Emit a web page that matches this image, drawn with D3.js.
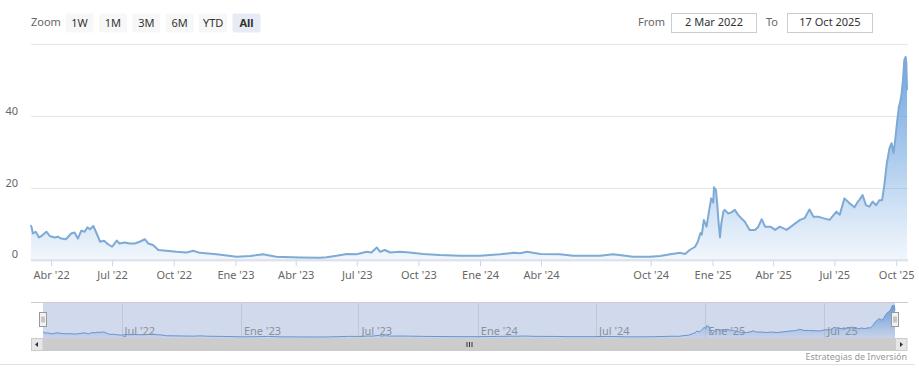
<!DOCTYPE html>
<html>
<head>
<meta charset="utf-8">
<script src="https://d3js.org/d3.v7.min.js"></script>
<style>
  body { margin: 0; background: #fff; }
  svg { display: block; font-family: "Noto Sans", "Open Sans", sans-serif; }
</style>
</head>
<body>
<div id="chart"></div>
<script>
// --- data ---
var dates = [
  "2022-03-02","2022-03-05","2022-03-09","2022-03-14","2022-03-19","2022-03-25","2022-03-30",
  "2022-04-06","2022-04-11","2022-04-16","2022-04-23","2022-05-01","2022-05-06","2022-05-11",
  "2022-05-16","2022-05-21","2022-05-25","2022-05-29","2022-06-03","2022-06-08","2022-06-13",
  "2022-06-19","2022-06-25","2022-07-01","2022-07-08","2022-07-12","2022-07-20","2022-07-27",
  "2022-08-04","2022-08-11","2022-08-19","2022-08-24","2022-08-31","2022-09-08","2022-09-20",
  "2022-10-05","2022-10-20","2022-10-30","2022-11-09","2022-12-04","2023-01-03","2023-01-23",
  "2023-02-11","2023-03-03","2023-04-07","2023-05-07","2023-05-17","2023-06-01","2023-06-16",
  "2023-07-01","2023-07-16","2023-07-23","2023-07-31","2023-08-05","2023-08-12","2023-08-20",
  "2023-09-03","2023-09-18","2023-10-08","2023-11-02","2023-12-02","2024-01-01","2024-01-31",
  "2024-02-20","2024-03-01","2024-03-11","2024-03-31","2024-04-29","2024-05-19","2024-06-28",
  "2024-07-22","2024-08-29","2024-09-29","2024-10-15","2024-10-30","2024-11-14","2024-11-21",
  "2024-11-28","2024-12-06","2024-12-10","2024-12-14","2024-12-16","2024-12-19","2024-12-23",
  "2024-12-27","2024-12-30","2025-01-02","2025-01-03","2025-01-06","2025-01-08","2025-01-10",
  "2025-01-12","2025-01-14","2025-01-17","2025-01-19","2025-01-24","2025-01-29","2025-02-03",
  "2025-02-08","2025-02-13","2025-02-18","2025-02-25","2025-03-05","2025-03-10","2025-03-15",
  "2025-03-20","2025-03-28","2025-04-04","2025-04-11","2025-04-21","2025-05-01","2025-05-11",
  "2025-05-18","2025-05-25","2025-05-31","2025-06-07","2025-06-14","2025-06-24","2025-07-04",
  "2025-07-09","2025-07-16","2025-07-24","2025-07-31","2025-08-05","2025-08-07","2025-08-12",
  "2025-08-17","2025-08-22","2025-08-27","2025-09-01","2025-09-06","2025-09-10","2025-09-13",
  "2025-09-17","2025-09-21","2025-09-24","2025-09-27","2025-09-30","2025-10-02","2025-10-05",
  "2025-10-07","2025-10-09","2025-10-11","2025-10-13","2025-10-15","2025-10-16","2025-10-17"
];
var values = [
  9.6,7.2,7.7,6.1,6.7,7.7,6.5,
  6.1,6.3,5.8,5.6,7.2,7.5,5.8,
  8.0,7.7,8.9,8.4,9.3,7.2,4.9,
  5.2,4.2,3.5,5.2,4.4,4.7,4.4,
  4.4,4.9,5.6,4.4,4.0,2.6,2.4,
  2.1,1.9,2.4,1.8,1.4,0.7,0.9,
  1.4,0.7,0.5,0.4,0.6,1.0,1.5,
  1.4,2.1,1.9,3.3,2.1,2.6,1.9,
  2.1,1.9,1.5,1.2,1.0,1.0,1.4,
  1.8,1.7,2.1,1.5,1.4,1.0,1.0,
  1.4,0.7,0.7,0.9,1.4,1.8,1.5,
  2.6,3.5,4.9,7.3,6.9,11.0,9.1,
  13.8,17.0,15.8,20.1,19.3,15.1,10.0,
  6.1,10.0,13.3,13.8,12.8,13.1,13.8,
  12.4,11.4,10.5,8.2,8.2,9.1,11.2,
  9.1,9.1,8.2,9.1,8.2,9.6,11.0,
  11.5,13.9,11.9,11.9,11.5,11.0,13.3,
  12.4,17.0,15.6,14.5,16.1,16.5,17.9,
  15.1,14.7,16.1,15.1,16.5,16.5,20.3,
  26.8,31.0,32.4,29.6,34.2,37.9,42.6,
  44.0,46.3,50.0,55.6,56.5,54.7,47.2
];
var yTicks = [0, 20, 40, 60];
var xTickDates = ["2022-04-01","2022-07-01","2022-10-01","2023-01-01","2023-04-01","2023-07-01",
  "2023-10-01","2024-01-01","2024-04-01","2024-10-01","2025-01-01","2025-04-01","2025-07-01","2025-10-01"];
var navTickDates = ["2022-07-01","2023-01-01","2023-07-01","2024-01-01","2024-07-01","2025-01-01","2025-07-01"];
// ordinal-style axis: the data has a gap in Q3 2024, so the time scale is piecewise
var axisBreaks = ["2022-03-02","2024-07-01","2024-10-01","2025-10-17"];
var zoomButtons = ["1W","1M","3M","6M","YTD","All"];
var fromText = "2 Mar 2022", toText = "17 Oct 2025";
var creditText = "Estrategias de Inversión";

var W = 919, H = 379;
var parse = d3.timeParse("%Y-%m-%d");
var es = d3.timeFormatLocale({
  dateTime: "%x, %X", date: "%d/%m/%Y", time: "%H:%M:%S", periods: ["AM","PM"],
  days: ["domingo","lunes","martes","miércoles","jueves","viernes","sábado"],
  shortDays: ["dom","lun","mar","mié","jue","vie","sáb"],
  months: ["enero","febrero","marzo","abril","mayo","junio","julio","agosto","septiembre","octubre","noviembre","diciembre"],
  shortMonths: ["Ene","Feb","Mar","Abr","May","Jun","Jul","Ago","Sep","Oct","Nov","Dic"]
});
var fmt = es.format("%b '%y");

var data = dates.map(function(d, i) { return { date: parse(d), value: values[i] }; });

var plot = { left: 31, right: 907, top: 44.3, bottom: 259.3 };
var nav = { left: 43, right: 895, top: 302, bottom: 338 };

var x = d3.scaleTime()
    .domain(axisBreaks.map(parse))
    .range([plot.left, 602, 650.7, plot.right]);
var xNav = d3.scaleTime()
    .domain(axisBreaks.map(parse))
    .range([nav.left, 596, 645, nav.right]);
var y = d3.scaleLinear().domain([0, 60]).range([plot.bottom, plot.top]);
var yNav = d3.scaleLinear().domain([d3.min(values), d3.max(values)]).range([nav.bottom - 1, nav.top + 3]);

var svg = d3.select("#chart").append("svg")
    .attr("width", W).attr("height", H)
    .attr("viewBox", "0 0 " + W + " " + H);

var defs = svg.append("defs");
var grad = defs.append("linearGradient").attr("id", "areaGrad")
    .attr("x1", 0).attr("y1", 0).attr("x2", 0).attr("y2", 1);
[[0, 1], [0.45, 0.62], [0.75, 0.32], [1, 0.1]].forEach(function(s) {
  grad.append("stop").attr("offset", s[0]).attr("stop-color", "#6fa6e0").attr("stop-opacity", s[1]);
});

// --- range selector ---
svg.append("text").attr("x", 31).attr("y", 25.5)
    .attr("font-size", 11).attr("fill", "#666").text("Zoom");
var btn = svg.selectAll("g.btn").data(zoomButtons).enter().append("g")
    .attr("class", "btn")
    .attr("transform", function(d, i) { return "translate(" + (65.5 + i * 33.4) + ",13.5)"; });
btn.append("rect").attr("width", 28).attr("height", 19).attr("rx", 2)
    .attr("fill", function(d) { return d === "All" ? "#e6ebf5" : "#f7f7f7"; });
btn.append("text").attr("x", 14).attr("y", 13.5).attr("text-anchor", "middle")
    .attr("font-size", 11).attr("fill", "#333")
    .attr("font-weight", function(d) { return d === "All" ? "bold" : "normal"; })
    .text(function(d) { return d; });

svg.append("text").attr("x", 638).attr("y", 25.5).attr("font-size", 11).attr("fill", "#666").text("From");
svg.append("rect").attr("x", 671.5).attr("y", 13.5).attr("width", 85).attr("height", 19)
    .attr("fill", "#fff").attr("stroke", "#ccc");
svg.append("text").attr("x", 714).attr("y", 26).attr("text-anchor", "middle")
    .attr("font-size", 11).attr("fill", "#333").text(fromText);
svg.append("text").attr("x", 766).attr("y", 25.5).attr("font-size", 11).attr("fill", "#666").text("To");
svg.append("rect").attr("x", 787.5).attr("y", 13.5).attr("width", 85).attr("height", 19)
    .attr("fill", "#fff").attr("stroke", "#ccc");
svg.append("text").attr("x", 830).attr("y", 26).attr("text-anchor", "middle")
    .attr("font-size", 11).attr("fill", "#333").text(toText);

// --- main plot ---
svg.append("g").selectAll("line").data(yTicks).enter().append("line")
    .attr("x1", plot.left).attr("x2", plot.right + 1)
    .attr("y1", function(d) { return Math.round(y(d)) + 0.5; })
    .attr("y2", function(d) { return Math.round(y(d)) + 0.5; })
    .attr("stroke", "#e6e6e6");

svg.append("g").selectAll("text").data(yTicks.slice(0, 3)).enter().append("text")
    .attr("x", 18).attr("y", function(d) { return y(d) - 1; })
    .attr("text-anchor", "end").attr("font-size", 11).attr("fill", "#666")
    .text(function(d) { return d; });

var area = d3.area().x(function(d) { return x(d.date); })
    .y0(plot.bottom).y1(function(d) { return y(d.value); });
var line = d3.line().x(function(d) { return x(d.date); }).y(function(d) { return y(d.value); });

svg.append("path").datum(data).attr("d", area).attr("fill", "url(#areaGrad)");
svg.append("path").datum(data).attr("d", line)
    .attr("fill", "none").attr("stroke", "#7eaad6").attr("stroke-width", 2)
    .attr("stroke-linejoin", "round");

var xAxis = d3.axisBottom(x)
    .tickValues(xTickDates.map(parse))
    .tickFormat(fmt)
    .tickSize(6).tickPadding(5);
var gx = svg.append("g").attr("transform", "translate(0," + (plot.bottom + 1) + ")").call(xAxis);
gx.select(".domain").attr("stroke", "#ccd6eb").attr("d", "M" + plot.left + ",0.5H" + (plot.right + 1));
gx.selectAll(".tick line").attr("stroke", "#ccd6eb");
gx.selectAll(".tick text").attr("font-size", 11).attr("fill", "#666")
    .attr("font-family", "Noto Sans, Open Sans, sans-serif");

// --- navigator ---
svg.append("line").attr("x1", plot.left).attr("x2", plot.right + 1)
    .attr("y1", nav.top + 0.5).attr("y2", nav.top + 0.5).attr("stroke", "#ccc");

svg.append("g").selectAll("line").data(navTickDates).enter().append("line")
    .attr("x1", function(d) { return Math.round(xNav(parse(d))) + 0.5; })
    .attr("x2", function(d) { return Math.round(xNav(parse(d))) + 0.5; })
    .attr("y1", nav.top).attr("y2", nav.bottom)
    .attr("stroke", "#e6e6e6");

var navArea = d3.area().x(function(d) { return xNav(d.date); })
    .y0(nav.bottom).y1(function(d) { return yNav(d.value); });
var navLine = d3.line().x(function(d) { return xNav(d.date); }).y(function(d) { return yNav(d.value); });
svg.append("path").datum(data).attr("d", navArea).attr("fill", "url(#areaGrad)");
svg.append("path").datum(data).attr("d", navLine)
    .attr("fill", "none").attr("stroke", "#6b9bd6").attr("stroke-width", 1);

// mask over the selected range (everything)
svg.append("rect").attr("x", nav.left).attr("y", nav.top + 1)
    .attr("width", nav.right - nav.left).attr("height", nav.bottom - nav.top - 1)
    .attr("fill", "rgba(102,133,194,0.3)");

svg.append("g").selectAll("text").data(navTickDates).enter().append("text")
    .attr("x", function(d) { return xNav(parse(d)) + 3; })
    .attr("y", 334.5).attr("font-size", 11).attr("fill", "#8a8f9c")
    .text(function(d) { return fmt(parse(d)); });

// handles
[nav.left, nav.right].forEach(function(hx) {
  var g = svg.append("g").attr("transform", "translate(" + (Math.round(hx) - 3.5) + ",312.5)");
  g.append("rect").attr("width", 7).attr("height", 14).attr("fill", "#f2f2f2").attr("stroke", "#999");
  g.append("line").attr("x1", 2.5).attr("x2", 2.5).attr("y1", 4).attr("y2", 10).attr("stroke", "#999");
  g.append("line").attr("x1", 4.5).attr("x2", 4.5).attr("y1", 4).attr("y2", 10).attr("stroke", "#999");
});

// scrollbar
var sbY = nav.bottom, sbH = 13;
svg.append("rect").attr("x", plot.left).attr("y", sbY).attr("width", plot.right - plot.left)
    .attr("height", sbH).attr("fill", "#f2f2f2");
svg.append("rect").attr("x", nav.left).attr("y", sbY).attr("width", nav.right - nav.left)
    .attr("height", sbH).attr("fill", "#cccccc");
svg.append("rect").attr("x", plot.left + 0.5).attr("y", sbY + 0.5).attr("width", 11.5)
    .attr("height", sbH - 1).attr("fill", "#e6e6e6").attr("stroke", "#ccc");
svg.append("rect").attr("x", nav.right + 0.5).attr("y", sbY + 0.5).attr("width", 11.5)
    .attr("height", sbH - 1).attr("fill", "#e6e6e6").attr("stroke", "#ccc");
svg.append("path").attr("d", "M35,344.5L38,342L38,347Z").attr("fill", "#333");
svg.append("path").attr("d", "M903,344.5L900,342L900,347Z").attr("fill", "#333");
var midX = (nav.left + nav.right) / 2;
[-2.5, 0, 2.5].forEach(function(o) {
  svg.append("line").attr("x1", midX + o + 0.5).attr("x2", midX + o + 0.5)
      .attr("y1", sbY + 4).attr("y2", sbY + 9).attr("stroke", "#333");
});

// credits and bottom rule
svg.append("text").attr("x", plot.right).attr("y", 359.5).attr("text-anchor", "end")
    .attr("font-size", 9).attr("fill", "#999").text(creditText);
svg.append("line").attr("x1", 0).attr("x2", 915).attr("y1", 364.5).attr("y2", 364.5)
    .attr("stroke", "#e0e0e0");
</script>
</body>
</html>
